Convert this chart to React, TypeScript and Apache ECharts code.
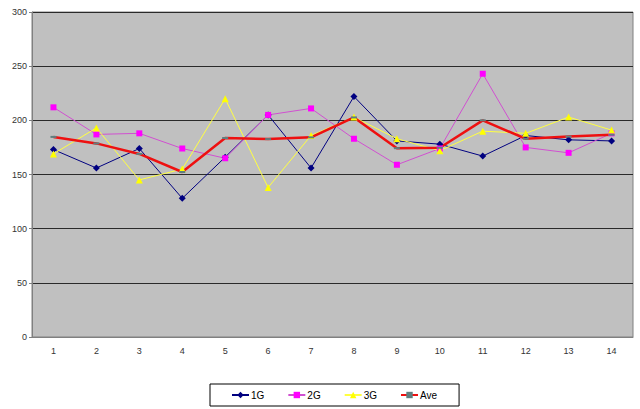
import React, { useEffect, useRef } from "react";
import * as echarts from "echarts";

const categories = ["1", "2", "3", "4", "5", "6", "7", "8", "9", "10", "11", "12", "13", "14"];
const yTicks = [0, 50, 100, 150, 200, 250, 300];
const g1 = [173, 156, 174, 128, 166, 205, 156, 222, 181, 178, 167, 186, 182, 181];
const g2 = [212, 187, 188, 174, 165, 205, 211, 183, 159, 174, 243, 175, 170, 188];
const g3 = [169, 193, 145, 155, 220, 138, 186, 203, 183, 172, 190, 188, 203, 191];
const ave = [184.7, 178.7, 169, 152.3, 183.7, 182.7, 184.3, 202.7, 174.3, 174.7, 200, 183, 185, 186.7];

export default function App() {
  const ref = useRef<HTMLDivElement>(null);
  useEffect(() => {
    if (!ref.current) return;
    const chart = echarts.init(ref.current, undefined, { renderer: "svg" });
    const font = "Liberation Sans";
    chart.setOption({
      animation: false,
      backgroundColor: "#ffffff",
      textStyle: { fontFamily: font },
      grid: {
        left: 32,
        top: 12,
        right: 7,
        bottom: 72,
        show: true,
        backgroundColor: "#c0c0c0",
        borderColor: "#808080",
        borderWidth: 1,
      },
      legend: {
        left: 210,
        top: 384,
        width: 248,
        padding: [6, 22, 6, 21],
        itemGap: 23,
        itemWidth: 17,
        itemHeight: 8,
        borderColor: "#000000",
        borderWidth: 1,
        backgroundColor: "#ffffff",
        textStyle: { fontFamily: font, fontSize: 10, color: "#000000", padding: [0, 0, 0, -3] },
        data: ["1G", "2G", "3G", "Ave"],
      },
      xAxis: {
        type: "category",
        data: categories,
        boundaryGap: true,
        axisLine: { lineStyle: { color: "#808080", width: 1 } },
        axisTick: { inside: true, length: 3, lineStyle: { color: "#808080" } },
        axisLabel: { color: "#333333", fontSize: 9, fontFamily: font, margin: 9 },
        splitLine: { show: false },
      },
      yAxis: {
        type: "value",
        min: yTicks[0],
        max: yTicks[yTicks.length - 1],
        interval: 50,
        axisLine: { show: true, lineStyle: { color: "#808080", width: 1 } },
        axisTick: { show: true, length: 3, lineStyle: { color: "#808080" } },
        axisLabel: { color: "#333333", fontSize: 9, fontFamily: font, margin: 5 },
        splitLine: { show: true, lineStyle: { color: "#2a2a2a", width: 1 } },
      },
      series: [
        {
          name: "1G",
          type: "line",
          data: g1,
          symbol: "diamond",
          symbolSize: 7,
          lineStyle: { color: "#000080", width: 1 },
          itemStyle: { color: "#000080" },
        },
        {
          name: "2G",
          type: "line",
          data: g2,
          symbol: "rect",
          symbolSize: 6,
          lineStyle: { color: "#d050d0", width: 1 },
          itemStyle: { color: "#ff00ff" },
        },
        {
          name: "3G",
          type: "line",
          data: g3,
          symbol: "triangle",
          symbolSize: 7,
          lineStyle: { color: "#ffff40", width: 1 },
          itemStyle: { color: "#ffff00" },
        },
        {
          name: "Ave",
          type: "line",
          data: ave,
          symbol: "rect",
          symbolSize: [6, 2],
          lineStyle: { color: "#ee1010", width: 2.5 },
          itemStyle: { color: "#5f7f7f" },
          z: 3,
        },
      ],
    });
    return () => chart.dispose();
  }, []);
  return (
    <div
      ref={ref}
      style={{ position: "fixed", left: 0, top: 0, width: 640, height: 409 }}
    />
  );
}
